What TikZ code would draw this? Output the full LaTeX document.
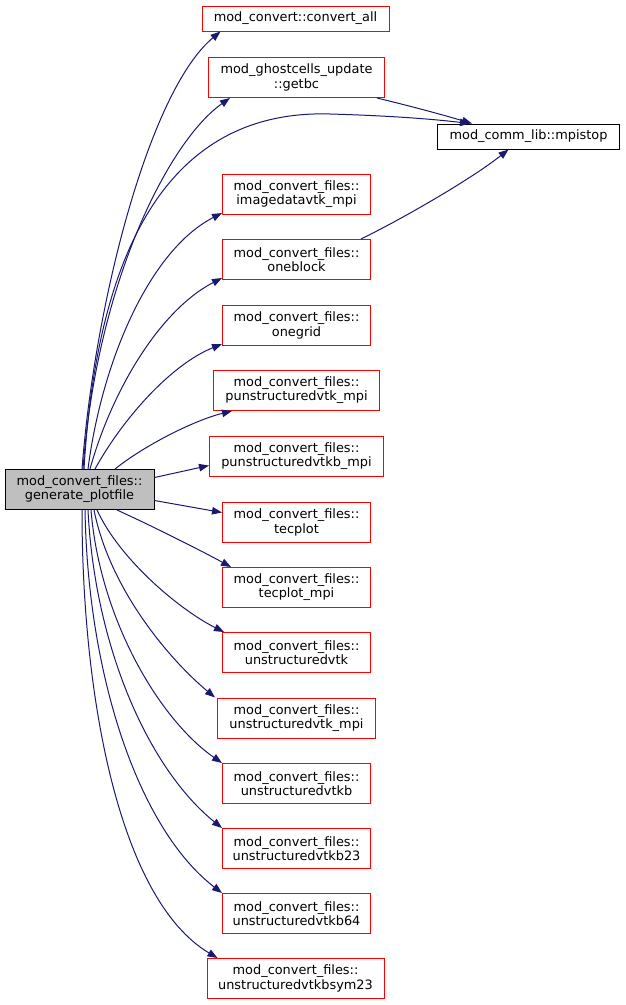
\documentclass[tikz,border=0pt]{standalone}
\usepackage{fontspec}
\setmainfont{DejaVu Sans}
\usetikzlibrary{arrows.meta}
\definecolor{edgeblue}{HTML}{191970}
\definecolor{rootgray}{HTML}{BFBFBF}
\definecolor{boxred}{HTML}{FF0000}
\begin{document}
\begin{tikzpicture}[x=1pt,y=-1pt,
  box/.style={draw=boxred,line width=1pt,inner sep=0pt,align=center,
    font=\fontsize{12.9}{14.2}\selectfont,minimum height=40pt,minimum width=148pt},
  extbox/.style={box,draw=black},
  rootbox/.style={box,draw=black,fill=rootgray},
  call/.style={draw=edgeblue,line width=1pt,-{Triangle[length=10pt,width=7.5pt]}}]
\useasboundingbox (0,0) rectangle (625,1005);
% nodes
\node[rootbox,minimum width=149pt] (gen) at (79.5,489.5) {mod\_convert\_files::\\generate\_plotfile};
\node[box,minimum width=187pt,minimum height=25pt] (conv) at (295.5,18.5) {mod\_convert::convert\_all};
\node[box,minimum width=176pt] (getbc) at (296.5,77.5) {mod\_ghostcells\_update\\::getbc};
\node[extbox,minimum width=182pt,minimum height=25pt] (mpi) at (528.5,136.5) {mod\_comm\_lib::mpistop};
\node[box] (img) at (296.5,194.5) {mod\_convert\_files::\\imagedatavtk\_mpi};
\node[box] (oneb) at (296.5,259.5) {mod\_convert\_files::\\oneblock};
\node[box] (oneg) at (296.5,325.5) {mod\_convert\_files::\\onegrid};
\node[box,minimum width=166pt] (pvtk) at (296.5,390.5) {mod\_convert\_files::\\punstructuredvtk\_mpi};
\node[box,minimum width=174pt] (pvtkb) at (296.5,456.5) {mod\_convert\_files::\\punstructuredvtkb\_mpi};
\node[box] (tec) at (296.5,522.5) {mod\_convert\_files::\\tecplot};
\node[box] (tecm) at (296.5,587.5) {mod\_convert\_files::\\tecplot\_mpi};
\node[box] (uvtk) at (296.5,652.5) {mod\_convert\_files::\\unstructuredvtk};
\node[box,draw=boxred,minimum width=158pt] (uvtkm) at (296.5,718) {mod\_convert\_files::\\unstructuredvtk\_mpi};
\node[box] (uvtkb) at (296.5,783.5) {mod\_convert\_files::\\unstructuredvtkb};
\node[box] (uvtkb23) at (296.5,848.5) {mod\_convert\_files::\\unstructuredvtkb23};
\node[box] (uvtkb64) at (296.5,913.5) {mod\_convert\_files::\\unstructuredvtkb64};
\node[box,minimum width=177pt] (uvtks) at (295.5,978.5) {mod\_convert\_files::\\unstructuredvtkbsym23};
% upper edges
\draw[call] ([xshift=2.5pt]gen.north) .. controls (95,300) and (150,90) .. ([xshift=19pt]conv.south west);
\draw[call] ([xshift=3.5pt]gen.north) .. controls (97,280) and (170,140) .. ([xshift=22pt]getbc.south west);
\draw[call] ([xshift=4.5pt]gen.north) .. controls (100,200) and (200,110) .. (330,114) .. controls (400,116) and (440,120) .. ([xshift=33pt]mpi.north west);
\draw[call] ([xshift=8.5pt]gen.north) .. controls (102,360) and (150,250) .. ([yshift=2pt]img.south west);
\draw[call] ([xshift=10.5pt]gen.north) .. controls (112,390) and (160,310) .. ([yshift=2pt]oneb.south west);
\draw[call] ([xshift=15.5pt]gen.north) .. controls (122,420) and (170,365) .. ([yshift=2pt]oneg.south west);
\draw[call] ([xshift=35.5pt]gen.north) .. controls (145,445) and (195,420) .. ([xshift=19pt]pvtk.south west);
\draw[call] ([yshift=12pt]gen.east) -- ([yshift=-9pt]pvtkb.west);
\draw[call] ([yshift=-11pt]gen.east) -- ([yshift=10pt]tec.west);
% mpistop callers
\draw[call] ([xshift=-8pt]getbc.south east) .. controls (410,106) and (440,114) .. ([xshift=35pt]mpi.north west);
\draw[call] ([xshift=-10pt]oneb.north east) .. controls (400,220) and (470,180) .. ([xshift=-20pt]mpi.south);
% lower edges
\draw[call] ([xshift=37.5pt]gen.south) .. controls (150,525) and (200,550) .. ([xshift=9pt]tecm.north west);
\draw[call] ([xshift=17.5pt]gen.south) .. controls (120,560) and (180,610) .. ([xshift=2pt]uvtk.north west);
\draw[call] ([xshift=14.5pt]gen.south) .. controls (110,590) and (170,660) .. ([xshift=-2pt]uvtkm.north west);
\draw[call] ([xshift=11.5pt]gen.south) .. controls (100,620) and (160,720) .. (uvtkb.north west);
\draw[call] ([xshift=8.5pt]gen.south) .. controls (95,650) and (150,770) .. (uvtkb23.north west);
\draw[call] ([xshift=5.5pt]gen.south) .. controls (88,680) and (140,830) .. (uvtkb64.north west);
\draw[call] ([xshift=2.5pt]gen.south) .. controls (82,700) and (120,900) .. ([xshift=11pt]uvtks.north west);
\end{tikzpicture}
\end{document}
